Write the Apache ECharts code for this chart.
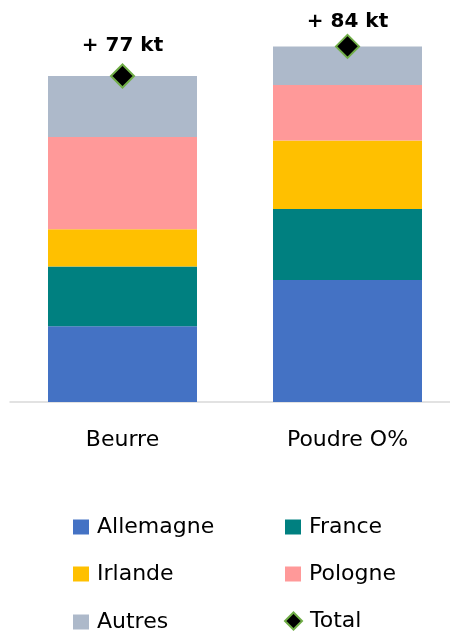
<!DOCTYPE html>
<html>
<head>
<meta charset="utf-8">
<script src="https://cdn.jsdelivr.net/npm/echarts@6/dist/echarts.min.js"></script>
<style>
html, body { margin: 0; padding: 0; background: #fff; }
#chart { width: 450px; height: 631px; }
</style>
</head>
<body>
<div id="chart"></div>
<script>
var categories = ['Beurre', 'Poudre O%'];
var allemagne = [17.9, 28.8];
var france = [14.1, 16.8];
var irlande = [8.8, 16.2];
var pologne = [21.8, 13.1];
var autres = [14.4, 9.1];
var total = [77, 84];

var font = 'DejaVu Sans';
var labelDist = [8, 2]; // excel place les etiquettes un peu differemment

function barSerie(name, data, color) {
    return {
        name: name,
        type: 'bar',
        stack: 'pays',
        barWidth: 149,
        data: data,
        itemStyle: { color: color },
        emphasis: { disabled: true }
    };
}

// une legende par case pour tenir la grille 2 x 3
function legendItem(name, left, top, icon) {
    return {
        left: left,
        top: top,
        icon: icon || 'rect',
        itemWidth: icon ? 17 : 16,
        itemHeight: icon ? 17 : 15,
        padding: 0,
        textStyle: { fontSize: 22, color: '#000', fontFamily: font, padding: [0, 0, 0, 3] },
        data: [name]
    };
}

var chart = echarts.init(document.getElementById('chart'));
var option = {
    animation: false,
    textStyle: { fontFamily: font },
    grid: { left: 10, top: 21, right: -10, height: 381, outerBoundsMode: 'none' },
    xAxis: {
        type: 'category',
        data: categories,
        axisLine: { lineStyle: { color: '#d9d9d9', width: 1.5 } },
        axisTick: { show: false },
        axisLabel: { color: '#000', fontSize: 22, margin: 27, fontFamily: font }
    },
    yAxis: {
        type: 'value',
        min: 0,
        max: 90,
        show: false,
        splitLine: { show: false }
    },
    legend: [
        legendItem('Allemagne', 73, 516),
        legendItem('France', 285, 516),
        legendItem('Irlande', 73, 563),
        legendItem('Pologne', 285, 563),
        legendItem('Autres', 73, 611),
        legendItem('Total', 284, 610, 'diamond')
    ],
    series: [
        barSerie('Allemagne', allemagne, '#4472C4'),
        barSerie('France', france, '#008080'),
        barSerie('Irlande', irlande, '#FFC000'),
        barSerie('Pologne', pologne, '#FF9999'),
        barSerie('Autres', autres, '#ADB9CA'),
        {
            name: 'Total',
            type: 'scatter',
            symbol: 'diamond',
            symbolSize: 23,
            data: total.map(function (v, i) {
                return { value: v, label: { distance: labelDist[i] } };
            }),
            z: 5,
            itemStyle: { color: '#000', borderColor: '#70AD47', borderWidth: 2, opacity: 1 },
            label: {
                show: true,
                position: 'top',
                formatter: '+ {c} kt',
                fontSize: 20,
                fontWeight: 'bold',
                color: '#000',
                opacity: 1,
                fontFamily: font
            },
            emphasis: { disabled: true }
        }
    ]
};
chart.setOption(option);
</script>
</body>
</html>
